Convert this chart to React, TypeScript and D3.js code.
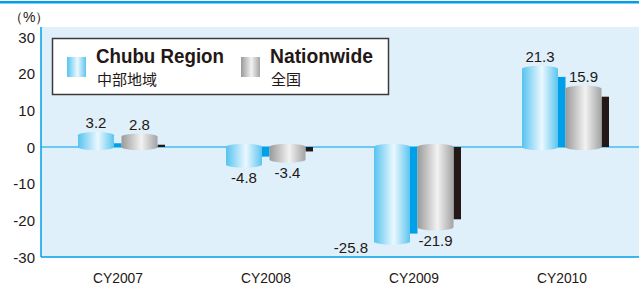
import React from 'react';
import * as d3 from 'd3';

const categories = ['CY2007', 'CY2008', 'CY2009', 'CY2010'];
const chubuValues = [3.2, -4.8, -25.8, 21.3];
const nationValues = [2.8, -3.4, -21.9, 15.9];
const yTicks = [30, 20, 10, 0, -10, -20, -30];

const series = [
  { key: 'chubu', name: 'Chubu Region', sub: '中部地域', values: chubuValues, grad: 'grad-blue', shadow: '#00a0e9', nameW: 128 },
  { key: 'nation', name: 'Nationwide', sub: '全国', values: nationValues, grad: 'grad-gray', shadow: '#231815', nameW: 103 },
];

const W = 639;
const H = 285;
const plot = { left: 41, right: 639, top: 27, bottom: 257 };
const textColor = '#231815';
const lineBlue = '#00a0e9';
const font = '"Liberation Sans", Arial, sans-serif';

export default function App(): React.ReactElement {
  const y = d3.scaleLinear().domain([-30, 30]).range([257, 37]);
  const x = d3.scaleBand<string>().domain(categories).range([44, 636]);
  const xs = d3.scaleBand<string>().domain(series.map((s) => s.key)).range([-40, 47]);
  const cylW = 36;
  const ry = 3.2;
  const shadowInset = 8;

  const bars: React.ReactNode[] = [];
  categories.forEach((cat, i) => {
    const cx = (x(cat) ?? 0) + x.bandwidth() / 2;
    series.forEach((s) => {
      const v = s.values[i];
      const left = cx + (xs(s.key) ?? 0);
      const y0 = y(0);
      const yv = y(v);
      const top = Math.min(y0, yv);
      const bot = Math.max(y0, yv);
      // shadow side bar
      const sh = Math.max(0, bot - top - shadowInset);
      const shY = v >= 0 ? y0 - sh : y0;
      bars.push(
        <rect key={`${s.key}-sh-${i}`} x={left + cylW} y={shY} width={xs.bandwidth() - cylW} height={sh} fill={s.shadow} />
      );
      // cylinder body with elliptic caps
      const d = `M${left},${top} A${cylW / 2},${ry} 0 0 1 ${left + cylW},${top} L${left + cylW},${bot} A${cylW / 2},${ry} 0 0 1 ${left},${bot} Z`;
      bars.push(<path key={`${s.key}-c-${i}`} d={d} fill={`url(#${s.grad})`} />);
      // value label
      const label = v.toFixed(1);
      if (v >= 0) {
        bars.push(
          <text key={`${s.key}-l-${i}`} x={left + cylW / 2} y={yv - ry - 4} textAnchor="middle" fontSize={15} fill={textColor}>{label}</text>
        );
      } else if (yv + ry + 16 > plot.bottom) {
        bars.push(
          <text key={`${s.key}-l-${i}`} x={left - 6} y={yv + 11} textAnchor="end" fontSize={15} fill={textColor}>{label}</text>
        );
      } else {
        bars.push(
          <text key={`${s.key}-l-${i}`} x={left + cylW / 2} y={yv + ry + 15} textAnchor="middle" fontSize={15} fill={textColor}>{label}</text>
        );
      }
    });
  });

  return (
    <svg width={W} height={H} style={{ position: 'absolute', left: 0, top: 0, fontFamily: font }}>
      <defs>
        <linearGradient id="grad-blue" x1="0%" x2="100%" y1="0%" y2="0%">
          <stop offset="0%" stopColor="#56c3f0" />
          <stop offset="55%" stopColor="#ecf8fe" />
          <stop offset="100%" stopColor="#5cc5f0" />
        </linearGradient>
        <linearGradient id="grad-gray" x1="0%" x2="100%" y1="0%" y2="0%">
          <stop offset="0%" stopColor="#9a9a9a" />
          <stop offset="55%" stopColor="#f2f2f2" />
          <stop offset="100%" stopColor="#a3a3a3" />
        </linearGradient>
      </defs>
      <rect x={0} y={0} width={W} height={H} fill="#ffffff" />
      <rect x={0} y={1} width={W} height={2.5} fill={lineBlue} />
      <rect x={plot.left} y={plot.top} width={plot.right - plot.left} height={plot.bottom - plot.top} fill="#dff0fa" />

      <text x={9} y={22} fontSize={14} fill={textColor}>（%）</text>

      {yTicks.map((t) => (
        <text key={t} x={35} y={y(t) + 5.5} textAnchor="end" fontSize={15} fill={textColor}>{t}</text>
      ))}

      <line x1={plot.left} x2={plot.right} y1={y(0)} y2={y(0)} stroke={lineBlue} strokeWidth={1.2} />

      {bars}

      <line x1={plot.left} x2={plot.left} y1={plot.top} y2={plot.bottom} stroke={lineBlue} strokeWidth={1.5} />
      <line x1={plot.left} x2={plot.right} y1={plot.bottom} y2={plot.bottom} stroke={lineBlue} strokeWidth={1.5} />

      {categories.map((c) => (
        <text key={c} x={(x(c) ?? 0) + x.bandwidth() / 2} y={283} textAnchor="middle" fontSize={15} fill={textColor} textLength={50} lengthAdjust="spacingAndGlyphs">{c}</text>
      ))}

      <g>
        <rect x={52.5} y={38.5} width={336} height={56} fill="#ffffff" stroke="#3e3a39" strokeWidth={1.5} />
        {series.map((s, i) => {
          const lx = i === 0 ? 67 : 241;
          return (
            <g key={s.key}>
              <rect x={lx} y={57} width={19} height={20} fill={`url(#${s.grad})`} />
              <text x={lx + 29} y={63} fontSize={20} fontWeight="bold" fill={textColor} textLength={s.nameW} lengthAdjust="spacingAndGlyphs">{s.name}</text>
              <text x={lx + 30} y={84.5} fontSize={15} fill={textColor} fontFamily='"Noto Sans CJK JP", sans-serif'>{s.sub}</text>
            </g>
          );
        })}
      </g>
    </svg>
  );
}
